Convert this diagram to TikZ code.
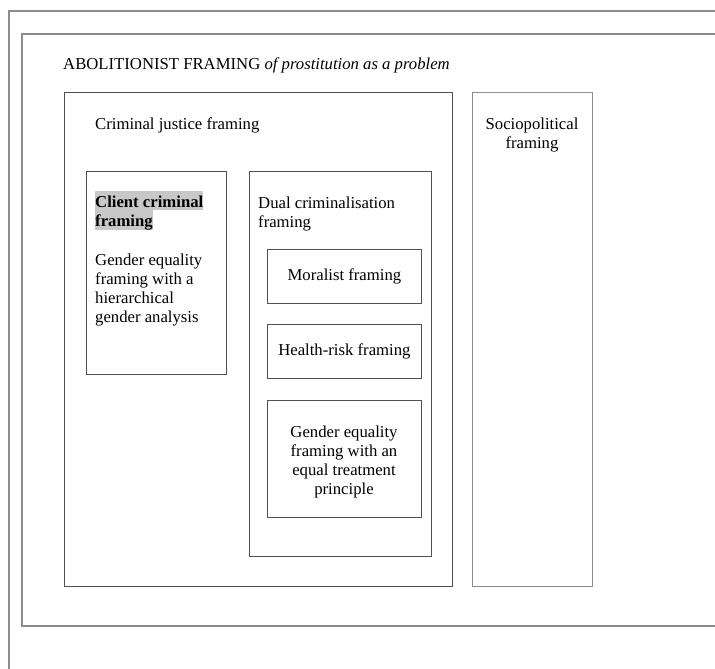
\documentclass[tikz,border=0pt]{standalone}
\usepackage{fontspec}
\setmainfont{Liberation Serif}
\usetikzlibrary{positioning}
\definecolor{hl}{HTML}{C8C8C8}
\definecolor{frameline}{HTML}{8C8C8C}
\definecolor{boxline}{HTML}{505050}
\setlength{\fboxsep}{0pt}
\newcommand{\hlstrut}{\rule[-2.5pt]{0pt}{19pt}}
\begin{document}
\begin{tikzpicture}[x=1pt,y=1pt,
  outerline/.style={draw=frameline, line width=1.3pt},
  boxstyle/.style={draw=boxline, line width=0.8pt, rectangle, inner sep=0pt, anchor=north west},
  txt/.style={font=\fontsize{16.7}{19}\selectfont, inner sep=0pt},
  ctxt/.style={txt, align=center},
  ltxt/.style={txt, align=left}]
\useasboundingbox (0,0) rectangle (715,-669);
% outer frames
\draw[outerline] (9,-669) -- (9,-11) -- (716,-11);
\draw[outerline] (716,-34) -- (22,-34) -- (22,-626) -- (716,-626);
% title
\node[txt, anchor=base west] (title) at (63,-70) {ABOLITIONIST FRAMING \textit{of prostitution as a problem}};
% criminal justice box
\node[boxstyle, minimum width=388, minimum height=494] (cj) at (64,-92) {};
\node[txt, anchor=base west] (cjt) at (95,-129) {Criminal justice framing};
% sociopolitical box
\node[boxstyle, draw=frameline, minimum width=120, minimum height=494] (sp) at (472,-92) {};
\node[ctxt, anchor=base] (spt) at (532,-148) {Sociopolitical\\framing};
% client criminal box
\node[boxstyle, minimum width=140, minimum height=203] (cc) at (86,-171) {};
\node[ltxt, anchor=base west] (cch) at (95,-226.5) {\colorbox{hl}{\hlstrut\bfseries Client criminal}\\\colorbox{hl}{\hlstrut\bfseries framing}};
\node[ltxt, anchor=base west] (ccb) at (95,-322.5) {Gender equality\\framing with a\\hierarchical\\gender analysis};
% dual criminalisation box
\node[boxstyle, minimum width=182, minimum height=385] (dc) at (249,-171) {};
\node[ltxt, anchor=base west] (dct) at (258,-227) {Dual criminalisation\\framing};
\node[boxstyle, minimum width=154, minimum height=54] (mor) at (267,-249) {};
\node[ctxt] (mort) at (mor.center) {Moralist framing};
\node[boxstyle, minimum width=154, minimum height=54] (hr) at (267,-324) {};
\node[ctxt] (hrt) at (hr.center) {Health-risk framing};
\node[boxstyle, minimum width=154, minimum height=117] (ge) at (267,-400) {};
\node[ctxt, anchor=base] (get) at (344,-494) {Gender equality\\framing with an\\equal treatment\\principle};
\end{tikzpicture}
\end{document}
